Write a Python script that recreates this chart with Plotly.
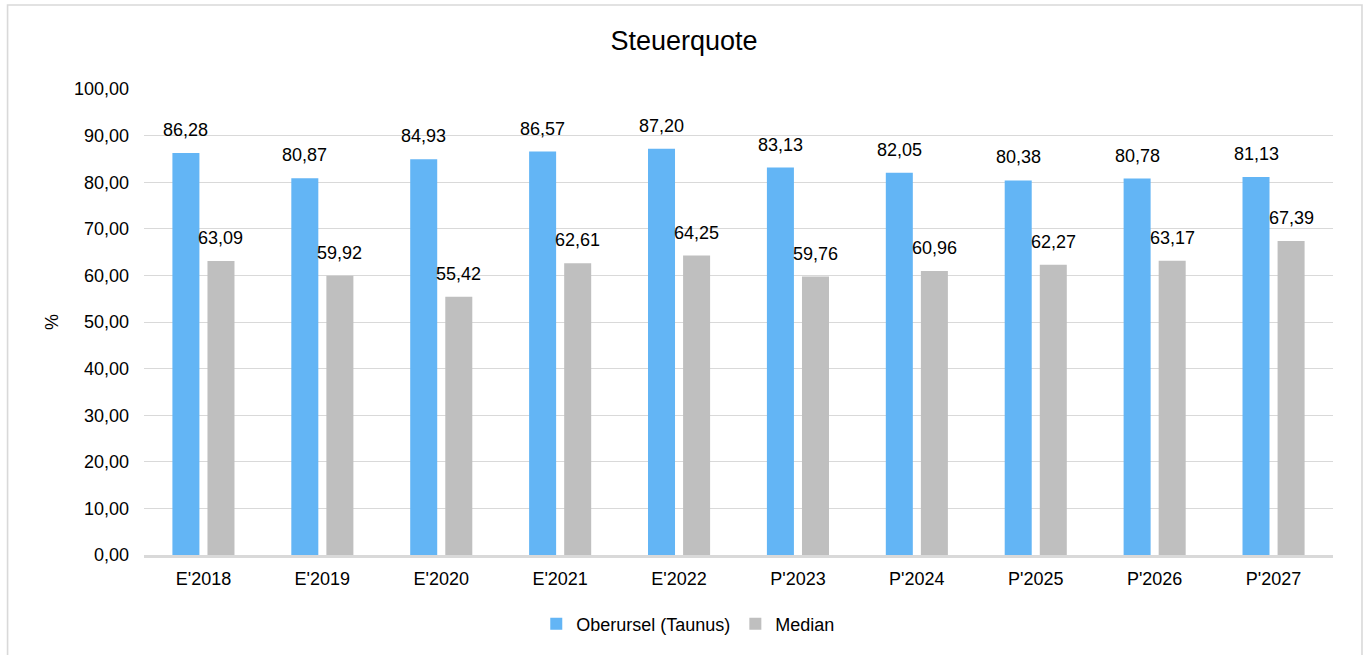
import plotly.graph_objects as go

# Data
categories = ["E'2018", "E'2019", "E'2020", "E'2021", "E'2022",
              "P'2023", "P'2024", "P'2025", "P'2026", "P'2027"]
oberursel = [86.28, 80.87, 84.93, 86.57, 87.20, 83.13, 82.05, 80.38, 80.78, 81.13]
median = [63.09, 59.92, 55.42, 62.61, 64.25, 59.76, 60.96, 62.27, 63.17, 67.39]
y_ticks = [0, 10, 20, 30, 40, 50, 60, 70, 80, 90, 100]

BLUE = "#63b5f5"
GRAY = "#bfbfbf"
GRID = "#d9d9d9"
FONT = "Liberation Sans, Arial, sans-serif"

W, H = 1368, 655
ML, MR, MT, MB = 143.5, 35, 89, 100
PW, PH = W - ML - MR, H - MT - MB


def de(v):
    return f"{v:.2f}".replace(".", ",")


fig = go.Figure()
fig.add_trace(go.Bar(name="Oberursel (Taunus)", x=categories, y=oberursel,
                     marker=dict(color=BLUE, line=dict(width=0))))
fig.add_trace(go.Bar(name="Median", x=categories, y=median,
                     marker=dict(color=GRAY, line=dict(width=0))))

# value labels above each bar
annotations = []
for series, shift in ((oberursel, -17.5), (median, 17.5)):
    for cat, v in zip(categories, series):
        annotations.append(dict(x=cat, y=v, xref="x", yref="y", text=de(v),
                                showarrow=False, xshift=shift, yshift=23,
                                yanchor="middle", xanchor="center",
                                font=dict(size=18, color="#000000", family=FONT)))


def px_x(p):
    return (p - ML) / PW


def px_y(p):
    return (H - MB - p) / PH


# outer frame of the chart
shapes = [dict(type="rect", xref="paper", yref="paper",
               x0=px_x(7), x1=px_x(1362), y0=px_y(662), y1=px_y(5),
               line=dict(color=GRID, width=1.6), fillcolor="rgba(0,0,0,0)",
               layer="below")]

fig.update_layout(
    width=W, height=H,
    margin=dict(l=ML, r=MR, t=MT, b=MB, autoexpand=False),
    paper_bgcolor="white", plot_bgcolor="white",
    separators=",.",
    font=dict(family=FONT, size=18, color="#000000"),
    title=dict(text="Steuerquote", x=0.5, xanchor="center", xref="container",
               y=1 - 41 / H, yanchor="middle", yref="container",
               font=dict(size=27, color="#000000", family=FONT)),
    barmode="group", bargap=0.41, bargroupgap=0.23,
    showlegend=True,
    legend=dict(orientation="h", x=px_x(688), xanchor="center",
                y=px_y(624), yanchor="middle",
                font=dict(size=18, color="#000000", family=FONT),
                itemwidth=30, bgcolor="rgba(0,0,0,0)"),
    annotations=annotations,
    shapes=shapes,
)
fig.update_xaxes(showgrid=False, showline=True, linecolor=GRID, linewidth=2.5,
                 ticks="", ticklabelstandoff=6,
                 tickfont=dict(size=18, color="#000000", family=FONT))
fig.update_yaxes(range=[0, 100], tickvals=y_ticks, tickformat=".2f",
                 showgrid=True, gridcolor=GRID, gridwidth=1.3,
                 zeroline=False, showline=False, ticks="", ticklabelstandoff=14,
                 tickfont=dict(size=18, color="#000000", family=FONT),
                 title=dict(text="%", standoff=10,
                            font=dict(size=18, color="#000000", family=FONT)))

fig.write_html("out.html")
